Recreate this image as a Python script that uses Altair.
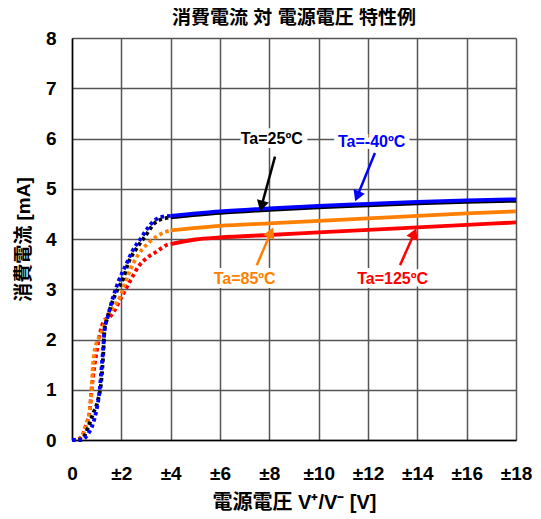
import math
import altair as alt
import pandas as pd

# ---------------- data ----------------
# Ta = -40 C (blue)
m40_dot_v = [0, 0.38, 0.65, 0.85, 0.99, 1.12, 1.19, 1.26, 1.32, 1.45, 1.67, 1.88, 2.22, 2.48, 2.76, 3.03, 3.3, 3.64, 4.0]
m40_dot_i = [0, 0.0, 0.12, 0.32, 0.59, 0.99, 1.39, 1.79, 2.19, 2.45, 2.85, 3.15, 3.52, 3.79, 3.99, 4.19, 4.35, 4.44, 4.46]
m40_sol_v = [4, 6, 8, 10, 12, 14, 16, 18]
m40_sol_i = [4.46, 4.55, 4.61, 4.66, 4.70, 4.74, 4.77, 4.79]

# Ta = 25 C (black)
p25_dot_v = [0, 0.4, 0.65, 0.85, 1.05, 1.19, 1.26, 1.32, 1.41, 1.6, 1.85, 2.08, 2.28, 2.6, 2.96, 3.36, 3.84, 4.0]
p25_dot_i = [0, 0.02, 0.25, 0.52, 0.79, 1.19, 1.65, 2.19, 2.39, 2.7, 3.0, 3.22, 3.52, 3.8, 4.05, 4.32, 4.42, 4.43]
p25_sol_v = [4, 6, 8, 10, 12, 14, 16, 18]
p25_sol_i = [4.43, 4.52, 4.58, 4.63, 4.67, 4.71, 4.74, 4.76]

# Ta = 85 C (orange)
p85_dot_v = [0, 0.2, 0.38, 0.58, 0.72, 0.78, 0.85, 0.92, 1.19, 1.46, 1.7, 1.95, 2.15, 2.42, 2.69, 3.03, 3.43, 3.84, 4.0]
p85_dot_i = [0, 0.0, 0.05, 0.30, 0.60, 0.90, 1.50, 1.79, 2.13, 2.49, 2.65, 2.85, 3.12, 3.45, 3.69, 3.89, 4.05, 4.15, 4.17]
p85_sol_v = [4, 6, 8, 10, 12, 14, 16, 18]
p85_sol_i = [4.17, 4.26, 4.31, 4.36, 4.41, 4.46, 4.51, 4.55]

# Ta = 125 C (red)
p125_dot_v = [0, 0.2, 0.38, 0.58, 0.72, 0.78, 0.85, 0.99, 1.12, 1.32, 1.53, 1.74, 1.95, 2.22, 2.42, 2.69, 3.03, 3.43, 3.9, 4.0]
p125_dot_i = [0, 0.01, 0.06, 0.32, 0.59, 0.92, 1.25, 1.72, 2.09, 2.39, 2.45, 2.59, 2.79, 3.04, 3.22, 3.45, 3.62, 3.75, 3.89, 3.90]
p125_sol_v = [4, 5, 6, 8, 10, 12, 14, 16, 18]
p125_sol_i = [3.90, 3.99, 4.03, 4.08, 4.13, 4.18, 4.23, 4.28, 4.33]

# annotations
ann_text = ["Ta=25ºC", "Ta=-40ºC", "Ta=85ºC", "Ta=125ºC"]
ann_color = ["#000000", "#0000FF", "#FF8000", "#FF0000"]
ann_tx = [8.1, 12.15, 7.0, 13.0]
ann_ty = [5.99, 5.94, 3.2, 3.2]
arr_x1 = [8.23, 12.28, 7.49, 13.3]
arr_y1 = [5.64, 5.71, 3.48, 3.48]
arr_x2 = [7.62, 11.47, 8.16, 13.97]
arr_y2 = [4.54, 4.74, 4.24, 4.22]

x_ticks = [0, 2, 4, 6, 8, 10, 12, 14, 16, 18]
y_ticks = [0, 1, 2, 3, 4, 5, 6, 7, 8]

TITLE = "消費電流 対 電源電圧 特性例"
X_TITLE = "電源電圧 V⁺/V⁻ [V]"
Y_TITLE = "消費電流 [mA]"

# ---------------- chart ----------------
W, H = 444, 402
FONT = "Liberation Sans, Arial, Noto Sans CJK JP"
xs = alt.Scale(domain=[0, 18], nice=False)
ys = alt.Scale(domain=[0, 8], nice=False)

series = [
    (p125_dot_v, p125_dot_i, p125_sol_v, p125_sol_i, "#FF0000"),
    (p85_dot_v, p85_dot_i, p85_sol_v, p85_sol_i, "#FF8000"),
    (p25_dot_v, p25_dot_i, p25_sol_v, p25_sol_i, "#000000"),
    (m40_dot_v, m40_dot_i, m40_sol_v, m40_sol_i, "#0000FF"),
]

x_axis = alt.Axis(values=x_ticks, labelExpr="datum.value == 0 ? '0' : '±' + datum.value",
                  title=X_TITLE, grid=True, ticks=False, titleFontSize=20)
y_axis = alt.Axis(values=y_ticks, title=Y_TITLE, grid=True, ticks=False, titleFontSize=19)

layers = []
first = True
for dv, di, sv, si, col in series:
    d1 = pd.DataFrame({"V": dv, "I": di})
    d2 = pd.DataFrame({"V": sv, "I": si})
    if first:
        xe = alt.X("V:Q", scale=xs, axis=x_axis)
        ye = alt.Y("I:Q", scale=ys, axis=y_axis)
        first = False
    else:
        xe = alt.X("V:Q", scale=xs)
        ye = alt.Y("I:Q", scale=ys)
    layers.append(alt.Chart(d1).mark_line(color=col, strokeWidth=3.8, strokeDash=[3.5, 3],
                                          strokeCap="butt", interpolate="monotone")
                  .encode(x=xe, y=ye, order="V:Q"))
    layers.append(alt.Chart(d2).mark_line(color=col, strokeWidth=3.8, interpolate="monotone")
                  .encode(x=alt.X("V:Q", scale=xs), y=alt.Y("I:Q", scale=ys), order="V:Q"))

sx = W / 18.0
sy = H / 8.0
rows = []
for i in range(len(ann_text)):
    dxp = (arr_x2[i] - arr_x1[i]) * sx
    dyp = -(arr_y2[i] - arr_y1[i]) * sy
    L = math.hypot(dxp, dyp)
    ang = (math.degrees(math.atan2(dxp, -dyp)) + 360) % 360
    back = 6.0
    hx = arr_x2[i] - (dxp / L) * back / sx
    hy = arr_y2[i] + (dyp / L) * back / sy
    rows.append({"t": ann_text[i], "c": ann_color[i], "tx": ann_tx[i], "ty": ann_ty[i],
                 "x1": arr_x1[i], "y1": arr_y1[i], "x2": arr_x2[i] - (dxp / L) * 8 / sx,
                 "y2": arr_y2[i] + (dyp / L) * 8 / sy, "hx": hx, "hy": hy, "ang": ang})
ann = pd.DataFrame(rows)

halo = alt.Chart(ann).mark_text(font=FONT, fontSize=16, fontWeight="bold", stroke="white",
                                strokeWidth=8, fill="white", baseline="middle").encode(
    x=alt.X("tx:Q", scale=xs), y=alt.Y("ty:Q", scale=ys), text="t:N")
txt = alt.Chart(ann).mark_text(font=FONT, fontSize=16, fontWeight="bold", baseline="middle").encode(
    x=alt.X("tx:Q", scale=xs), y=alt.Y("ty:Q", scale=ys), text="t:N",
    color=alt.Color("c:N", scale=None))
arrows = alt.Chart(ann).mark_rule(strokeWidth=2.5).encode(
    x=alt.X("x1:Q", scale=xs), y=alt.Y("y1:Q", scale=ys), x2="x2:Q", y2="y2:Q",
    color=alt.Color("c:N", scale=None))
heads = alt.Chart(ann).mark_point(shape="triangle-up", filled=True, size=150, opacity=1).encode(
    x=alt.X("hx:Q", scale=xs), y=alt.Y("hy:Q", scale=ys),
    angle=alt.Angle("ang:Q", scale=None), color=alt.Color("c:N", scale=None))

title_mark = alt.Chart(pd.DataFrame({"t": [TITLE]})).mark_text(
    font=FONT, fontSize=19, fontWeight="bold", color="black", baseline="alphabetic",
    align="center").encode(x=alt.value(W / 2), y=alt.value(-14), text="t:N")

# halo goes before the curves so it only hides grid lines
chart = alt.layer(halo, *layers, txt, arrows, heads, title_mark).properties(
    width=W, height=H,
    autosize=alt.AutoSizeParams(type="none"),
    padding={"left": 64, "top": 30, "right": 17, "bottom": 79},
).configure_view(stroke=None).configure_axis(
    labelFont=FONT, titleFont=FONT, labelFontSize=19, labelFontWeight="bold",
    titleFontWeight="bold", labelColor="black", titleColor="black",
    gridColor="#555555", gridWidth=1.5, gridOpacity=1, domainColor="black", domainWidth=1.5,
).configure_axisX(labelPadding=24, titlePadding=9, labelFlush=False).configure_axisY(
    labelPadding=16, titlePadding=12)

chart.save("out.html", embed_options={"renderer": "svg", "actions": False})
